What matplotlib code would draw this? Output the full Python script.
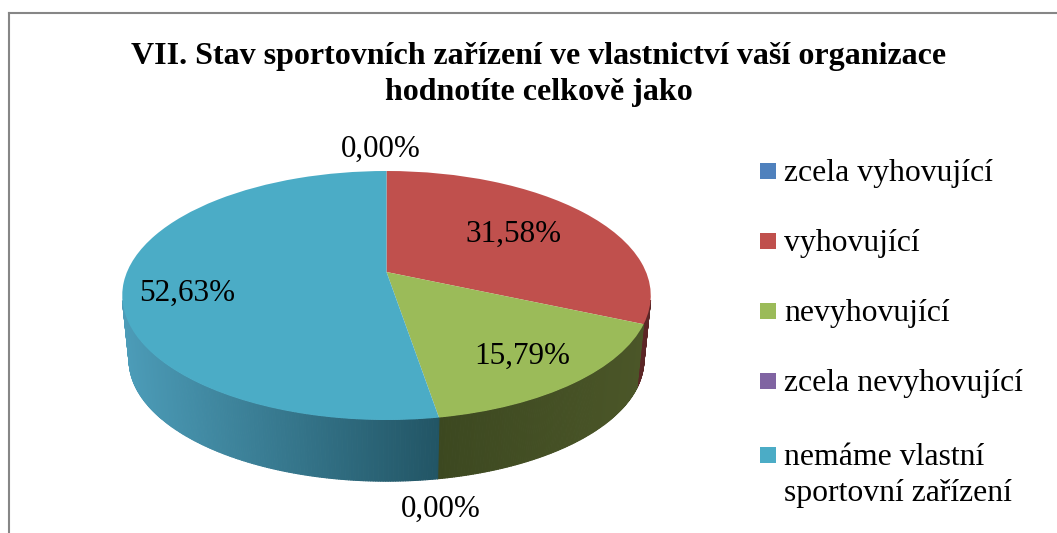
import numpy as np
import matplotlib
matplotlib.use("Agg")
import matplotlib.pyplot as plt
from matplotlib.collections import PolyCollection
from matplotlib.patches import Rectangle
from matplotlib.transforms import Transform
from matplotlib.colors import to_rgb

plt.rcParams['font.family'] = ['Liberation Serif', 'DejaVu Serif']

# Chart data
categories = ["zcela vyhovující", "vyhovující", "nevyhovující", "zcela nevyhovující", "nemáme vlastní\nsportovní zařízení"]
values = [0.0, 31.58, 15.79, 0.0, 52.63]
value_labels = ["0,00%", "31,58%", "15,79%", "0,00%", "52,63%"]
title_lines = ["VII. Stav sportovních zařízení ve vlastnictví vaší organizace", "hodnotíte celkově jako"]

colors = ["#4F81BD", "#C0504D", "#9BBB59", "#8064A2", "#4BACC6"]
wall_near = ["#2A4566", "#5C2626", "#3C4820", "#43345A", "#225565"]
wall_far = ["#2A4566", "#5C2626", "#4B5628", "#43345A", "#4C9CB8"]

W, H = 1057, 533
CX, CY = 386.5, 272.0   # where the slices meet, pixels
RX, RY, K = 259.5, 120.07, 0.1888   # perspective of the disc
WALL_SCALE, WALL_DROP = 0.974, 65.0


def project(x, y):
    d = 1 + K * y
    return CX + RX * x / d, CY - RY * y / d


# Puts the unit pie on the tilted disc
class Tilt(Transform):
    input_dims = 2
    output_dims = 2

    def transform_non_affine(self, xy):
        xy = np.asarray(xy, dtype=float)
        return np.column_stack(project(xy[:, 0], xy[:, 1]))


fig = plt.figure(figsize=(W / 100, H / 100), dpi=100, facecolor="white")
ax = fig.add_axes([0, 0, 1, 1])

wedges, _ = ax.pie(values, colors=colors, startangle=90, counterclock=False, radius=1.0)
tilt = Tilt()
for w in wedges:
    w.set_transform(tilt + ax.transData)
    w.set_zorder(3)
    w.set_linewidth(0)

ax.set_aspect("auto")
ax.set_xlim(0, W)
ax.set_ylim(H, 0)
ax.axis("off")

# Side wall: thin strips below the rim, shaded across the picture
quads, quad_colors = [], []
edges = np.concatenate([[0], np.cumsum(values)]) / np.sum(values) * 2 * np.pi
for i in range(len(values)):
    if values[i] == 0:
        continue
    t = np.arange(edges[i], edges[i + 1] + 0.008, 0.008)
    t[-1] = edges[i + 1]
    px, py = project(np.sin(t), np.cos(t))
    keep = py >= 300
    t, px, py = t[keep], px[keep], py[keep]
    bx = CX + (px - CX) * WALL_SCALE
    by = CY + (py - CY) * WALL_SCALE + WALL_DROP
    near, far = np.array(to_rgb(wall_near[i])), np.array(to_rgb(wall_far[i]))
    lo, hi = px.min(), px.max()
    for j in range(len(t) - 1):
        quads.append([(px[j], py[j]), (px[j + 1], py[j + 1]), (bx[j + 1], by[j + 1]), (bx[j], by[j])])
        f = abs(px[j] - (hi if i == 4 else lo)) / max(hi - lo, 1)
        quad_colors.append(near + (far - near) * f)
ax.add_collection(PolyCollection(quads, facecolors=quad_colors, edgecolors=quad_colors, linewidths=0.8, zorder=2))

# Chart frame
ax.plot([9, 9], [H, 13], color="#868686", lw=1.5, zorder=1)
ax.plot([9, W], [13, 13], color="#868686", lw=1.5, zorder=1)

for s, y in zip(title_lines, [64, 100]):
    ax.text(539, y, s, ha="center", va="baseline", fontsize=23, fontweight="bold", color="black")

# Value labels
label_xy = [(381, 149), (513.5, 234), (522, 356), (441, 509), (187, 293)]
for (x, y), s in zip(label_xy, value_labels):
    ax.text(x, y, s, ha="center", va="center", fontsize=22.4, color="black", zorder=5)

# Legend
legend_y = [171, 241, 311, 381, 455]
for name, c, y in zip(categories, colors, legend_y):
    ax.add_patch(Rectangle((760, y - 8), 16, 16, facecolor=c, edgecolor="none"))
    ax.text(784, y + 10, name.split("\n")[0], ha="left", va="baseline", fontsize=22.9, color="black")
    if "\n" in name:
        ax.text(784, y + 46, name.split("\n")[1], ha="left", va="baseline", fontsize=22.9, color="black")

fig.savefig("out.png", dpi=100, facecolor="white")
